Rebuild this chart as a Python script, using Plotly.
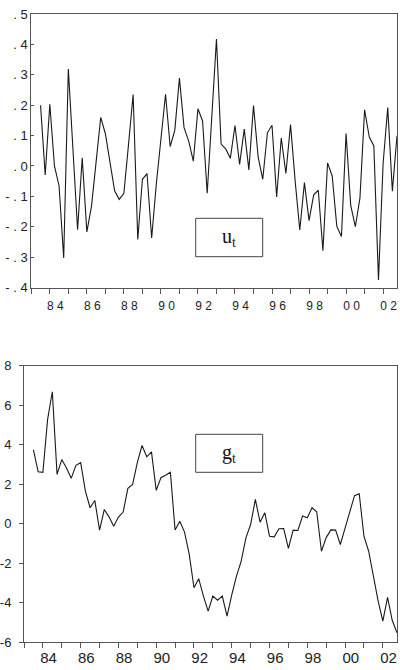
import plotly.graph_objects as go

# Quarterly observations 1983Q3 .. 2002Q4
start_year = 1983
start_q = 3
u_t = [0.20, -0.03, 0.203, 0.0, -0.066, -0.303, 0.319, 0.06, -0.21, 0.027,
       -0.217, -0.133, 0.013, 0.16, 0.106, 0.01, -0.082, -0.11, -0.09, 0.07,
       0.235, -0.242, -0.044, -0.025, -0.237, -0.06, 0.10, 0.236, 0.064, 0.117,
       0.289, 0.126, 0.082, 0.016, 0.188, 0.148, -0.09, 0.165, 0.418, 0.072,
       0.056, 0.025, 0.133, 0.005, 0.121, -0.013, 0.199, 0.03, -0.044, 0.109,
       0.134, -0.102, 0.092, -0.025, 0.136, -0.05, -0.211, -0.055, -0.18, -0.095,
       -0.08, -0.279, 0.01, -0.033, -0.199, -0.232, 0.107, -0.13, -0.2, -0.105,
       0.185, 0.096, 0.066, -0.375, 0.008, 0.192, -0.083, 0.099]
g_t = [3.74, 2.63, 2.6, 5.28, 6.68, 2.5, 3.25, 2.82, 2.3, 2.96,
       3.09, 1.65, 0.81, 1.18, -0.32, 0.72, 0.35, -0.12, 0.34, 0.59,
       1.79, 1.99, 3.09, 3.96, 3.39, 3.64, 1.69, 2.33, 2.46, 2.61,
       -0.32, 0.13, -0.42, -1.55, -3.24, -2.78, -3.66, -4.42, -3.66, -3.87,
       -3.66, -4.67, -3.6, -2.65, -1.89, -0.71, -0.04, 1.23, 0.08, 0.56,
       -0.63, -0.66, -0.25, -0.24, -1.25, -0.32, -0.34, 0.39, 0.3, 0.81,
       0.61, -1.39, -0.7, -0.31, -0.32, -1.05, -0.22, 0.66, 1.42, 1.52,
       -0.63, -1.39, -2.72, -3.9, -4.93, -3.73, -4.9, -5.52]

label_years = [1984, 1986, 1988, 1990, 1992, 1994, 1996, 1998, 2000, 2002]
top_xlabels = ["8 4", "8 6", "8 8", "9 0", "9 2", "9 4", "9 6", "9 8", "0 0", "0 2"]
bot_xlabels = ["84", "86", "88", "90", "92", "94", "96", "98", "00", "02"]
u_ticks = [0.5, 0.4, 0.3, 0.2, 0.1, 0.0, -0.1, -0.2, -0.3, -0.4]
u_ticktext = [". 5", ". 4", ". 3", ". 2", ". 1", ". 0", "- . 1", "- . 2", "- . 3", "- . 4"]
g_ticks = [8, 6, 4, 2, 0, -2, -4, -6]
g_ticktext = ["8", "6", "4", "2", "0", "-2", "-4", "-6"]

x = [start_year + (start_q - 1 + i) / 4 for i in range(len(u_t))]
label_pos = [y + 0.3 for y in label_years]

FRAME = "#555555"
FONT = "Liberation Sans, Arial, sans-serif"

fig = go.Figure()
fig.add_trace(go.Scatter(x=x, y=u_t, mode="lines", line=dict(color="#1a1a1a", width=1.1),
                         xaxis="x", yaxis="y", showlegend=False, hoverinfo="skip"))
fig.add_trace(go.Scatter(x=x, y=g_t, mode="lines", line=dict(color="#1a1a1a", width=1.1),
                         xaxis="x2", yaxis="y2", showlegend=False, hoverinfo="skip"))

common_x = dict(range=[1983.0, 2002.75], showgrid=False, zeroline=False,
                showline=True, linecolor=FRAME, linewidth=1, mirror=True,
                ticks="", tickmode="array", tickvals=label_pos,
                minor=dict(tickmode="linear", tick0=1983, dtick=1, ticks="outside",
                           ticklen=5, tickcolor=FRAME, tickwidth=1),
                automargin=False, fixedrange=True)

fig.update_layout(
    width=400, height=670,
    margin=dict(l=0, r=0, t=0, b=0),
    paper_bgcolor="white", plot_bgcolor="white",
    xaxis=dict(common_x, domain=[31.3 / 400, 397 / 400], anchor="y",
               ticktext=top_xlabels, ticklabelstandoff=7,
               tickfont=dict(family=FONT, size=12, color="#222")),
    yaxis=dict(domain=[1 - 287.5 / 670, 1 - 14 / 670], anchor="x",
               range=[-0.4, 0.5], tickmode="array", tickvals=u_ticks, ticktext=u_ticktext,
               ticks="inside", ticklen=3, tickcolor=FRAME, showgrid=False, zeroline=False,
               showline=True, linecolor=FRAME, linewidth=1, mirror=True, ticklabelstandoff=0,
               tickfont=dict(family=FONT, size=13, color="#222"), automargin=False),
    xaxis2=dict(common_x, domain=[24 / 400, 397 / 400], anchor="y2",
                ticktext=bot_xlabels, ticklabelstandoff=2,
                tickfont=dict(family=FONT, size=15, color="#222")),
    yaxis2=dict(domain=[1 - 642.3 / 670, 1 - 365.7 / 670], anchor="x2",
                range=[-6, 8], tickmode="array", tickvals=g_ticks, ticktext=g_ticktext,
                ticks="outside", ticklen=4, tickcolor=FRAME, showgrid=False, zeroline=False,
                showline=True, linecolor=FRAME, linewidth=1, mirror=True, ticklabelstandoff=5,
                tickfont=dict(family=FONT, size=13, color="#222"), automargin=False),
)

# label boxes
boxes = [
    (195.7, 218.3, 262.7, 256.7, "u<sub>t</sub>"),
    (195.7, 434.3, 262.7, 472.3, "g<sub>t</sub>"),
]
for x0, y0, x1, y1, txt in boxes:
    fig.add_shape(type="rect", xref="paper", yref="paper",
                  x0=x0 / 400, x1=x1 / 400, y0=1 - y1 / 670, y1=1 - y0 / 670,
                  line=dict(color="#444", width=1), fillcolor="white")
    fig.add_annotation(xref="paper", yref="paper", x=(x0 + x1) / 2 / 400,
                       y=1 - (y0 + y1) / 2 / 670, text=txt, showarrow=False,
                       font=dict(family="Liberation Serif, Times New Roman, serif",
                                 size=20, color="#111"),
                       xanchor="center", yanchor="middle")

fig.write_html("out.html")
